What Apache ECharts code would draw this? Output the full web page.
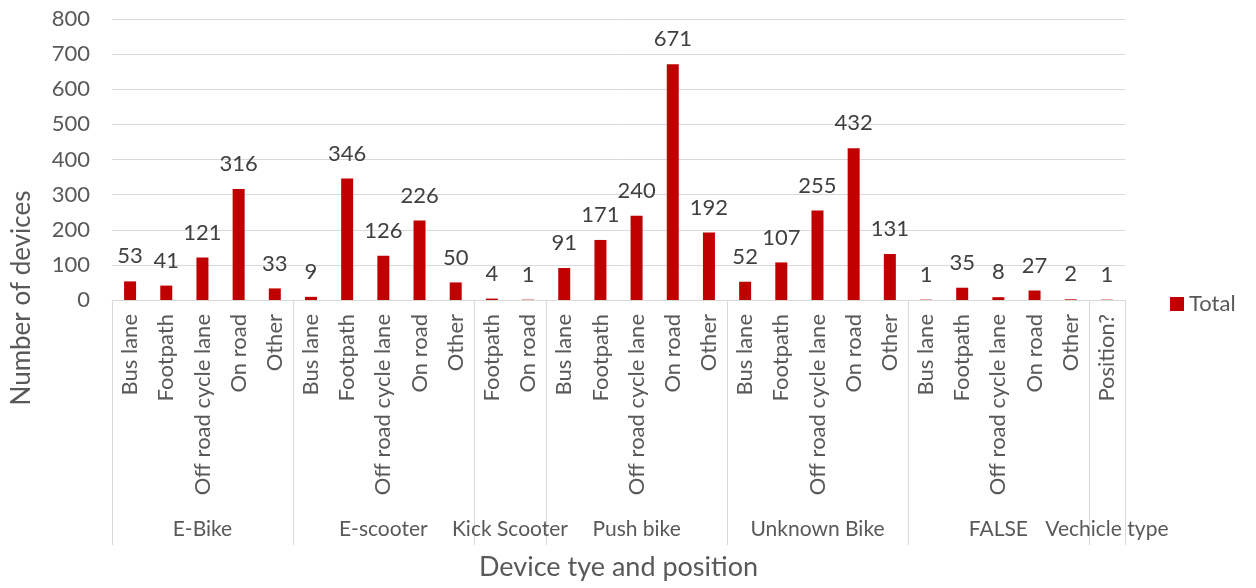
<!DOCTYPE html>
<html>
<head>
<meta charset="utf-8">
<script src="https://cdn.jsdelivr.net/npm/echarts@6/dist/echarts.min.js"></script>
<style>html,body{margin:0;padding:0;background:#fff;}#c{width:1256px;height:588px;}</style>
</head>
<body>
<div id="c"></div>
<script>
const categories = [
  'Bus lane','Footpath','Off road cycle lane','On road','Other',
  'Bus lane','Footpath','Off road cycle lane','On road','Other',
  'Footpath','On road',
  'Bus lane','Footpath','Off road cycle lane','On road','Other',
  'Bus lane','Footpath','Off road cycle lane','On road','Other',
  'Bus lane','Footpath','Off road cycle lane','On road','Other',
  'Position?'
];
const values = [
  53,41,121,316,33,
  9,346,126,226,50,
  4,1,
  91,171,240,671,192,
  52,107,255,432,131,
  1,35,8,27,2,
  1
];
const groupNames = ['E-Bike','E-scooter','Kick Scooter','Push bike','Unknown Bike','FALSE','Vechicle type'];
const groupSizes = [5,5,2,5,5,5,1];
const yTicks = [0,100,200,300,400,500,600,700,800];

const FONT = 'Lato, "Open Sans", sans-serif';
const GRAY = '#595959';

// Build half-step axis for group labels and group dividers
const halfCount = categories.length * 2 + 1;
const halfData = new Array(halfCount).fill('');
const boundaries = new Set([0]);
let pos = 0;
groupNames.forEach((g, i) => {
  halfData[2 * pos + groupSizes[i]] = g;
  pos += groupSizes[i];
  boundaries.add(2 * pos);
});

const chart = echarts.init(document.getElementById('c'), null, {renderer: 'canvas'});
chart.setOption({
  animation: false,
  textStyle: {fontFamily: FONT},
  grid: {left: 112, right: 131, top: 19, bottom: 288, containLabel: false},
  legend: {
    data: [{name: 'Total', icon: 'rect'}], orient: 'vertical', left: 1165, top: 288,
    itemWidth: 14, itemHeight: 14, itemGap: 5,
    textStyle: {fontFamily: FONT, fontSize: 22, color: GRAY}
  },
  xAxis: [
    {
      type: 'category', data: categories, position: 'bottom',
      axisLine: {show: true, lineStyle: {color: '#d9d9d9', width: 1}},
      axisTick: {show: false},
      axisLabel: {interval: 0, rotate: 90, margin: 14, fontFamily: FONT, fontSize: 22, color: GRAY}
    },
    {
      type: 'category', data: halfData, position: 'bottom', boundaryGap: false,
      axisLine: {show: false},
      axisTick: {show: true, length: 245, lineStyle: {color: '#d9d9d9', width: 1},
        interval: function (idx) { return boundaries.has(idx); }},
      axisLabel: {interval: 0, margin: 219, fontFamily: FONT, fontSize: 21, color: GRAY,
        showMinLabel: true, showMaxLabel: true},
      name: 'Device tye and position', nameLocation: 'middle', nameGap: 254,
      nameTextStyle: {fontFamily: FONT, fontSize: 27, color: GRAY}
    }
  ],
  yAxis: {
    type: 'value', min: yTicks[0], max: yTicks[yTicks.length - 1], interval: 100,
    axisLine: {show: false}, axisTick: {show: false},
    axisLabel: {margin: 22, fontFamily: FONT, fontSize: 22, color: GRAY},
    splitLine: {lineStyle: {color: '#d9d9d9', width: 1}}
  },
  graphic: [{
    type: 'text', x: 22, y: 298, rotation: Math.PI / 2,
    style: {text: 'Number of devices', fontFamily: FONT, fontSize: 26, fill: GRAY,
      textAlign: 'center', textVerticalAlign: 'middle'}
  }],
  series: [{
    name: 'Total', type: 'bar', xAxisIndex: 0, data: values, barWidth: 12,
    itemStyle: {color: '#C00000'},
    label: {show: true, position: 'top', distance: 14, fontFamily: FONT, fontSize: 22, color: '#404040'}
  }]
});
</script>
</body>
</html>
